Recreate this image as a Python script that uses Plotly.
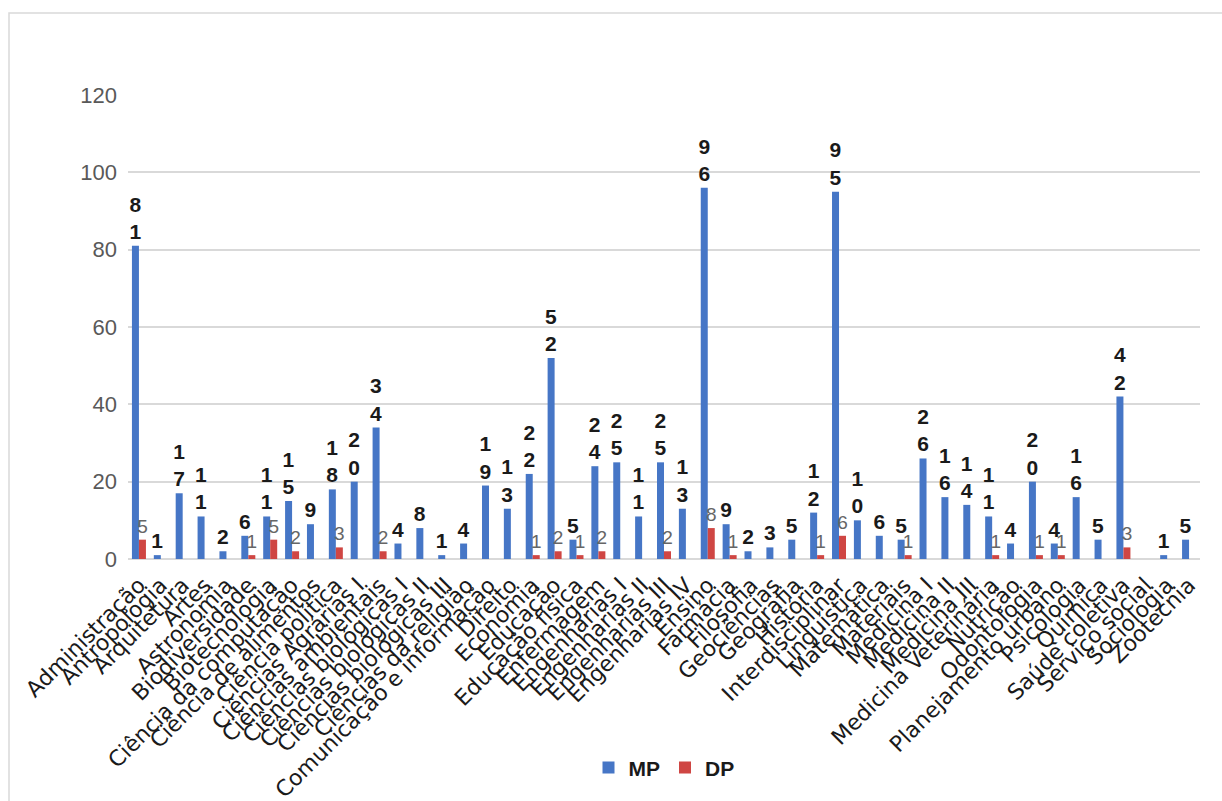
import plotly.graph_objects as go

categories = [
    "Administração", "Antropologia", "Arquitetura", "Artes", "Astronomia",
    "Biodiversidade", "Biotecnologia", "Ciência da computação", "Ciência de alimentos",
    "Ciência política", "Ciências Agrárias I", "Ciências ambientais",
    "Ciências biológicas I", "Ciências biológicas II", "Ciências biológicas III",
    "Ciências da religião", "Comunicação e informação", "Direito", "Economia",
    "Educação", "Educação física", "Enfermagem", "Engenharias I", "Engenharias II",
    "Engenharias III", "Engenharias IV", "Ensino", "Farmácia", "Filosofia",
    "Geociências", "Geografia", "História", "Interdisciplinar", "Linguística",
    "Matemática", "Materiais", "Medicina I", "Medicina II", "Medicina III",
    "Medicina Veterinária", "Nutrição", "Odontologia", "Planejamento urbano",
    "Psicologia", "Química", "Saúde coletiva", "Serviço social", "Sociologia",
    "Zootecnia",
]

mp_values = [81, 1, 17, 11, 2, 6, 11, 15, 9, 18, 20, 34, 4, 8, 1, 4, 19, 13, 22,
             52, 5, 24, 25, 11, 25, 13, 96, 9, 2, 3, 5, 12, 95, 10, 6, 5, 26, 16,
             14, 11, 4, 20, 4, 16, 5, 42, None, 1, 5]

dp_values = [5, None, None, None, None, 1, 5, 2, None, 3, None, 2, None, None, None,
             None, None, None, 1, 2, 1, 2, None, None, 2, None, 8, 1, None, None,
             None, 1, 6, None, None, 1, None, None, None, 1, None, 1, 1, None, None,
             3, None, None, None]

y_ticks = [0, 20, 40, 60, 80, 100, 120]


def stacked_digits(v):
    if v is None:
        return ""
    return "<br>".join(list(str(v)))


mp_text = [stacked_digits(v) for v in mp_values]
dp_text = ["" if v is None else str(v) for v in dp_values]

fig = go.Figure()
fig.add_trace(go.Bar(
    name="MP", x=categories, y=mp_values, text=mp_text,
    textposition="outside", constraintext="none", cliponaxis=False,
    textfont=dict(family="Liberation Sans", size=21, color="#1a1a1a", weight="bold"),
    marker=dict(color="#4676c6", line=dict(width=0)),
))
fig.add_trace(go.Bar(
    name="DP", x=categories, y=dp_values, text=dp_text,
    textposition="outside", constraintext="none", cliponaxis=False,
    textfont=dict(family="Liberation Sans", size=19, color="#666666"),
    marker=dict(color="#cf4643", line=dict(width=0)),
))

fig.update_layout(
    width=1222, height=801,
    margin=dict(l=128, r=22, t=95, b=242),
    paper_bgcolor="white", plot_bgcolor="white",
    barmode="group", bargap=0.36, bargroupgap=0,
    showlegend=True,
    legend=dict(orientation="h", x=0.5, xanchor="center", y=-0.45, yanchor="middle",
                font=dict(family="Liberation Sans", size=21, color="#1a1a1a", weight="bold"),
                itemwidth=30, traceorder="normal"),
    font=dict(family="Liberation Sans"),
    shapes=[dict(type="rect", xref="paper", yref="paper",
                 x0=(9 - 128) / 1072, x1=(1240 - 128) / 1072,
                 y0=(559 - 820) / 464, y1=(559 - 13) / 464,
                 line=dict(color="#d9d9d9", width=1.5), fillcolor="rgba(0,0,0,0)",
                 layer="below")],
)
fig.update_yaxes(range=[0, 120], tickvals=y_ticks, showgrid=True,
                 gridcolor="#d9d9d9", gridwidth=1.5, zeroline=True,
                 zerolinecolor="#d9d9d9", zerolinewidth=1.5,
                 tickfont=dict(family="Liberation Sans", size=22, color="#595959"),
                 ticklabelstandoff=10, automargin=False)
fig.update_xaxes(tickmode="array", tickvals=categories, ticktext=categories,
                 tickangle=-45, automargin=False, showgrid=False,
                 tickfont=dict(family="DejaVu Sans", size=22, color="#1a1a1a"),
                 ticklabelstandoff=8, showline=False)

fig.write_html("out.html")
